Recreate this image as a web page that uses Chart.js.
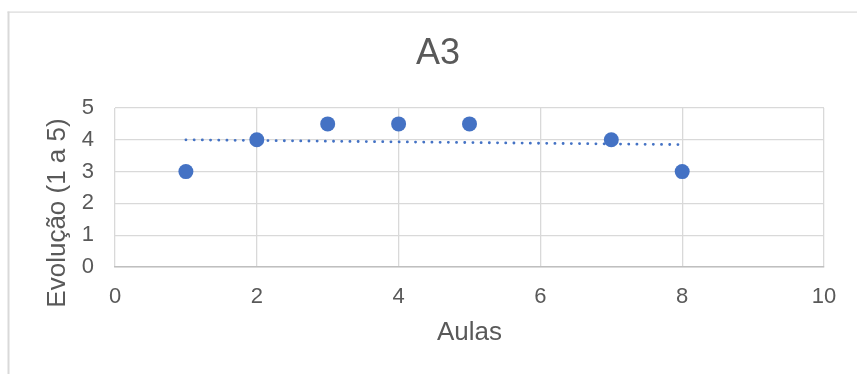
<!DOCTYPE html>
<html>
<head>
<meta charset="utf-8">
<script src="https://cdn.jsdelivr.net/npm/chart.js@4/dist/chart.umd.min.js"></script>
<style>
  html, body { margin: 0; padding: 0; background: #ffffff; }
  #wrap { width: 857px; height: 374px; position: relative; }
</style>
</head>
<body>
<div id="wrap"><canvas id="c" width="857" height="374"></canvas></div>
<script>
// Aula number and the evolution score given in it (scale 1 to 5)
const aulas = [1, 2, 3, 4, 5, 7, 8];
const evolucao = [3, 4, 4.5, 4.5, 4.5, 4, 3];

// Axis tick values
const xTicks = [0, 2, 4, 6, 8, 10];
const yTicks = [0, 1, 2, 3, 4, 5];

const chartTitle = 'A3';
const xTitle = 'Aulas';
const yTitle = 'Evolução (1 a 5)';

const BLUE = '#4472C4';
const TEXT = '#595959';
const GRID = '#d9d9d9';
const FONT = "'Liberation Sans', Arial, sans-serif";

// Least-squares linear trend through the scores
function linearTrend(xs, ys) {
  const n = xs.length;
  const mx = xs.reduce((a, b) => a + b, 0) / n;
  const my = ys.reduce((a, b) => a + b, 0) / n;
  let sxy = 0, sxx = 0;
  for (let i = 0; i < n; i++) {
    sxy += (xs[i] - mx) * (ys[i] - my);
    sxx += (xs[i] - mx) * (xs[i] - mx);
  }
  const slope = sxy / sxx;
  const icpt = my - slope * mx;
  const x0 = Math.min(...xs), x1 = Math.max(...xs);
  return [{ x: x0, y: icpt + slope * x0 }, { x: x1, y: icpt + slope * x1 }];
}

const points = aulas.map((x, i) => ({ x, y: evolucao[i] }));
const trend = linearTrend(aulas, evolucao);

// Outer frame of the chart object, the centred title and the vertical axis title
const framePlugin = {
  id: 'frame',
  beforeDraw(chart) {
    const ctx = chart.ctx;
    ctx.save();
    ctx.fillStyle = '#ffffff';
    ctx.fillRect(0, 0, chart.width, chart.height);
    ctx.fillStyle = GRID;
    ctx.fillRect(7.5, 11.5, 2, chart.height);
    ctx.fillRect(7.5, 11.5, chart.width, 1.2);
    ctx.restore();
  },
  afterDraw(chart) {
    const ctx = chart.ctx;
    ctx.save();
    ctx.fillStyle = TEXT;
    ctx.font = '36px ' + FONT;
    ctx.textAlign = 'center';
    ctx.textBaseline = 'middle';
    ctx.fillText(chartTitle, 438, 54);

    ctx.font = '26px ' + FONT;
    ctx.translate(58, 213);
    ctx.rotate(-Math.PI / 2);
    ctx.fillText(yTitle, 0, 0);
    ctx.restore();
  }
};

new Chart(document.getElementById('c'), {
  type: 'scatter',
  data: {
    datasets: [
      {
        label: 'Evolução',
        data: points,
        backgroundColor: BLUE,
        borderColor: BLUE,
        borderWidth: 0,
        pointRadius: 7.5,
        pointHoverRadius: 7.5,
        order: 0
      },
      {
        label: 'Linear (Evolução)',
        type: 'line',
        data: trend,
        borderColor: BLUE,
        borderWidth: 2.8,
        borderDash: [0.1, 8.1],
        borderCapStyle: 'round',
        pointRadius: 0,
        fill: false,
        tension: 0,
        order: 1
      }
    ]
  },
  options: {
    responsive: false,
    animation: false,
    events: [],
    layout: { padding: { left: 48, right: 33, top: 108, bottom: 25.4 } },
    plugins: {
      legend: { display: false },
      title: { display: false },
      tooltip: { enabled: false }
    },
    scales: {
      x: {
        type: 'linear',
        min: xTicks[0],
        max: xTicks[xTicks.length - 1],
        afterBuildTicks(scale) { scale.ticks = xTicks.map(v => ({ value: v })); },
        afterFit(scale) { scale.height = 81.6; },
        grid: { color: GRID, lineWidth: 1.3, drawTicks: false },
        border: { display: true, color: '#bfbfbf', width: 1.5 },
        ticks: { color: TEXT, font: { family: FONT, size: 22 }, padding: 17, maxRotation: 0 },
        title: {
          display: true, text: xTitle, color: TEXT,
          font: { family: FONT, size: 26 }, padding: 0
        }
      },
      y: {
        type: 'linear',
        min: yTicks[0],
        max: yTicks[yTicks.length - 1],
        afterBuildTicks(scale) { scale.ticks = yTicks.map(v => ({ value: v })); },
        afterFit(scale) { scale.width = 67; },
        grid: { color: GRID, lineWidth: 1.3, drawTicks: false },
        border: { display: false },
        ticks: { color: TEXT, font: { family: FONT, size: 22 }, padding: 21 },
        title: { display: false }
      }
    }
  },
  plugins: [framePlugin]
});
</script>
</body>
</html>
